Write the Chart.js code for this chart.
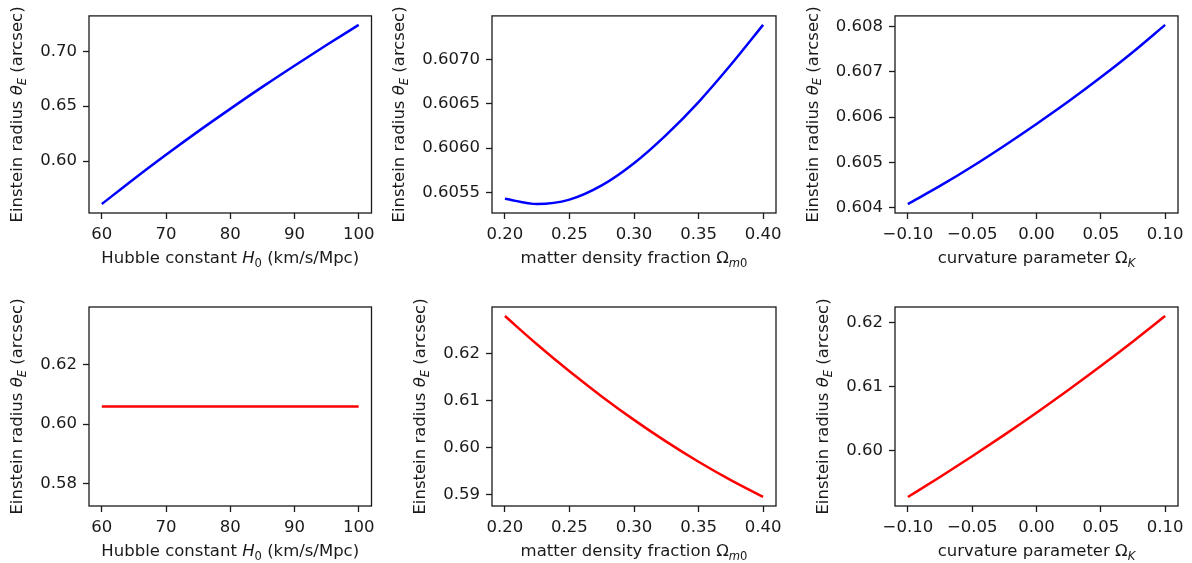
<!DOCTYPE html>
<html>
<head>
<meta charset="utf-8">
<script src="https://cdn.jsdelivr.net/npm/chart.js@4.4.1/dist/chart.umd.min.js"></script>
<style>
html,body{margin:0;padding:0;background:#fff;}
#wrap{position:relative;width:1192px;height:563px;overflow:hidden;background:#fff;}
#wrap canvas{position:absolute;left:0;top:0;}
</style>
</head>
<body>
<div id="wrap"></div>
<script>
// ---------------- data ----------------
const h0Values     = [60, 65, 70, 75, 80, 85, 90, 95, 100];
const omegaMValues = [0.200, 0.225, 0.250, 0.275, 0.300, 0.325, 0.350, 0.375, 0.400];
const omegaKValues = [-0.100, -0.075, -0.050, -0.025, 0.000, 0.025, 0.050, 0.075, 0.100];

// top row (blue)
const thetaVsH0Top     = [0.5609, 0.5838, 0.6058, 0.6271, 0.6476, 0.6676, 0.6869, 0.7057, 0.7241];
const thetaVsOmegaMTop = [0.60543, 0.60537, 0.60542, 0.60558, 0.60583, 0.60615, 0.60652, 0.60694, 0.60739];
const thetaVsOmegaKTop = [0.60408, 0.60448, 0.60491, 0.60537, 0.60585, 0.60635, 0.60688, 0.60744, 0.60804];

// bottom row (red)
const thetaVsH0Bottom     = [0.6059, 0.6059, 0.6059, 0.6059, 0.6059, 0.6059, 0.6059, 0.6059, 0.6059];
const thetaVsOmegaMBottom = [0.62787, 0.62185, 0.61617, 0.61086, 0.60589, 0.60128, 0.59702, 0.59312, 0.58957];
const thetaVsOmegaKBottom = [0.59281, 0.59593, 0.59916, 0.60250, 0.60595, 0.60953, 0.61323, 0.61706, 0.62103];

// tick labels
const h0TickLabels     = ['60', '70', '80', '90', '100'];
const omegaMTickLabels = ['0.20', '0.25', '0.30', '0.35', '0.40'];
const omegaKTickLabels = ['\u22120.10', '\u22120.05', '0.00', '0.05', '0.10'];
const yTicksH0Top      = ['0.60', '0.65', '0.70'];
const yTicksOmegaMTop  = ['0.6055', '0.6060', '0.6065', '0.6070'];
const yTicksOmegaKTop  = ['0.604', '0.605', '0.606', '0.607', '0.608'];
const yTicksH0Bottom   = ['0.58', '0.60', '0.62'];
const yTicksOmegaMBottom = ['0.59', '0.60', '0.61', '0.62'];
const yTicksOmegaKBottom = ['0.60', '0.61', '0.62'];

// axis titles: [text, kind]  n=normal, i=italic, s=subscript
const yTitle   = [['Einstein radius ', 'n'], ['\u03B8', 'i'], ['E', 'is'], [' (arcsec)', 'n']];
const xTitleH0 = [['Hubble constant ', 'n'], ['H', 'i'], ['0', 's'], [' (km/s/Mpc)', 'n']];
const xTitleOm = [['matter density fraction ', 'n'], ['\u03A9', 'n'], ['m', 'is'], ['0', 's']];
const xTitleOk = [['curvature parameter ', 'n'], ['\u03A9', 'n'], ['K', 'is']];

// ---------------- style / layout ----------------
const W = 1192, H = 563;
const FONT = '"DejaVu Sans", "Liberation Sans", sans-serif';
const FS = 16.5;
const INK = '#1a1a1a';
const TICK_LEN = 6, TICK_PAD = 6;

const cols = [[89, 371.5], [492, 776], [895, 1178]];
const rows = [[14, 213], [307, 506]];

const panels = [
  {x: h0Values,     y: thetaVsH0Top,        color: '#0000ff', xt: h0TickLabels,     yt: yTicksH0Top,        xTitle: xTitleH0, c: 0, r: 0},
  {x: omegaMValues, y: thetaVsOmegaMTop,    color: '#0000ff', xt: omegaMTickLabels, yt: yTicksOmegaMTop,    xTitle: xTitleOm, c: 1, r: 0},
  {x: omegaKValues, y: thetaVsOmegaKTop,    color: '#0000ff', xt: omegaKTickLabels, yt: yTicksOmegaKTop,    xTitle: xTitleOk, c: 2, r: 0},
  {x: h0Values,     y: thetaVsH0Bottom,     color: '#ff0000', xt: h0TickLabels,     yt: yTicksH0Bottom,     xTitle: xTitleH0, c: 0, r: 1},
  {x: omegaMValues, y: thetaVsOmegaMBottom, color: '#ff0000', xt: omegaMTickLabels, yt: yTicksOmegaMBottom, xTitle: xTitleOm, c: 1, r: 1},
  {x: omegaKValues, y: thetaVsOmegaKBottom, color: '#ff0000', xt: omegaKTickLabels, yt: yTicksOmegaKBottom, xTitle: xTitleOk, c: 2, r: 1}
];

function toNum(s) { return parseFloat(s.replace('\u2212', '-')); }

function padRange(vals) {
  let lo = Math.min(...vals), hi = Math.max(...vals);
  if (hi - lo < 1e-9 * Math.abs(hi)) { lo -= 0.05 * Math.abs(lo); hi += 0.05 * Math.abs(hi); }
  const m = (hi - lo) * 0.05;
  return [lo - m, hi + m];
}

function segFont(kind) {
  const italic = kind.indexOf('i') >= 0;
  const sub = kind.indexOf('s') >= 0;
  const size = sub ? FS * 0.7 : FS;
  return {font: (italic ? 'italic ' : '') + size + 'px ' + FONT, dy: sub ? FS * 0.22 : 0};
}

function drawRich(ctx, segs, cx, cy, rotate) {
  ctx.save();
  ctx.translate(cx, cy);
  if (rotate) ctx.rotate(-Math.PI / 2);
  ctx.fillStyle = INK;
  ctx.textBaseline = 'alphabetic';
  ctx.textAlign = 'left';
  let total = 0;
  const ws = segs.map(([t, k]) => { ctx.font = segFont(k).font; const w = ctx.measureText(t).width; total += w; return w; });
  let x = -total / 2;
  const base = FS * 0.3;
  segs.forEach(([t, k], i) => { const f = segFont(k); ctx.font = f.font; ctx.fillText(t, x, base + f.dy); x += ws[i]; });
  ctx.restore();
}

const framePlugin = {
  id: 'frame',
  afterDraw(chart, args, opts) {
    const {ctx, chartArea: a} = chart;
    ctx.save();
    ctx.strokeStyle = INK;
    ctx.lineWidth = 1.3;
    ctx.strokeRect(a.left, a.top, a.right - a.left, a.bottom - a.top);
    ctx.font = FS + 'px ' + FONT;
    let maxW = 0;
    opts.yt.forEach(s => { maxW = Math.max(maxW, ctx.measureText(s).width); });
    ctx.restore();
    drawRich(ctx, opts.xTitle, (a.left + a.right) / 2, a.bottom + 45, false);
    drawRich(ctx, yTitle, a.left - TICK_LEN - TICK_PAD - maxW - 23, (a.top + a.bottom) / 2, true);
  }
};

const wrap = document.getElementById('wrap');
panels.forEach(p => {
  const cv = document.createElement('canvas');
  cv.width = W; cv.height = H;
  cv.style.width = W + 'px'; cv.style.height = H + 'px';
  wrap.appendChild(cv);
  const [l, rgt] = cols[p.c];
  const [t, b] = rows[p.r];
  const YW = 82, XH = 40;
  const xr = padRange(p.x), yr = padRange(p.y);
  const xv = p.xt.map(toNum), yv = p.yt.map(toNum);
  const tickFont = {family: FONT, size: FS};
  new Chart(cv, {
    type: 'line',
    data: {
      datasets: [{
        data: p.x.map((xx, i) => ({x: xx, y: p.y[i]})),
        borderColor: p.color,
        borderWidth: 2.5,
        pointRadius: 0,
        fill: false,
        cubicInterpolationMode: 'monotone'
      }]
    },
    options: {
      responsive: false,
      animation: false,
      events: [],
      layout: {padding: {left: l - YW, right: W - rgt, top: t, bottom: H - b - XH}},
      plugins: {
        legend: {display: false},
        tooltip: {enabled: false},
        frame: {yt: p.yt, xTitle: p.xTitle}
      },
      scales: {
        x: {
          type: 'linear', position: 'bottom',
          min: xr[0], max: xr[1],
          afterFit: s => { s.height = XH; },
          afterBuildTicks: s => { s.ticks = xv.map(v => ({value: v})); },
          border: {display: false},
          grid: {display: true, drawOnChartArea: false, drawTicks: true, tickLength: TICK_LEN, tickWidth: 1.3, tickColor: INK},
          ticks: {autoSkip: false, maxRotation: 0, minRotation: 0, padding: TICK_PAD, color: INK, font: tickFont,
                  callback: (v, i) => p.xt[i]}
        },
        y: {
          type: 'linear', position: 'left',
          min: yr[0], max: yr[1],
          afterFit: s => { s.width = YW; },
          afterBuildTicks: s => { s.ticks = yv.map(v => ({value: v})); },
          border: {display: false},
          grid: {display: true, drawOnChartArea: false, drawTicks: true, tickLength: TICK_LEN, tickWidth: 1.3, tickColor: INK},
          ticks: {autoSkip: false, padding: TICK_PAD, color: INK, font: tickFont,
                  callback: (v, i) => p.yt[i]}
        }
      }
    },
    plugins: [framePlugin]
  });
});
</script>
</body>
</html>
